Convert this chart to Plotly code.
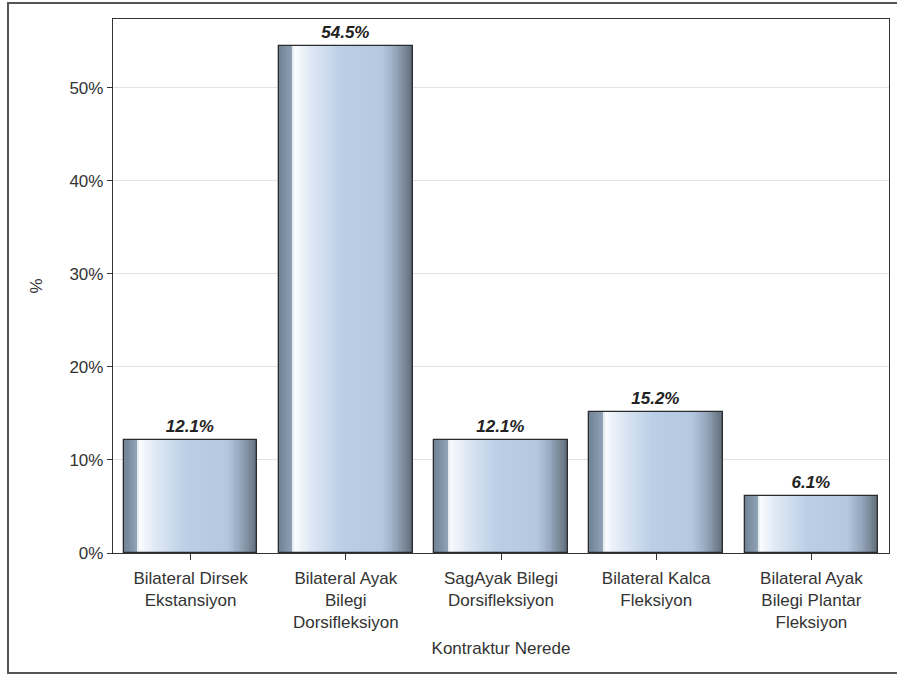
import plotly.graph_objects as go

# Contracture location shares (%)
categories = [
    "Bilateral Dirsek<br>Ekstansiyon",
    "Bilateral Ayak<br>Bilegi<br>Dorsifleksiyon",
    "SagAyak Bilegi<br>Dorsifleksiyon",
    "Bilateral Kalca<br>Fleksiyon",
    "Bilateral Ayak<br>Bilegi Plantar<br>Fleksiyon",
]
percents = [12.1, 54.5, 12.1, 15.2, 6.1]
y_ticks = [0, 10, 20, 30, 40, 50]

BAR_W = 0.86
N_SLICES = 70

# horizontal shading across each bar: (position across bar, rgb)
stops = [
    (0.00, (112, 130, 150)),
    (0.07, (134, 152, 172)),
    (0.095, (144, 162, 182)),
    (0.11, (252, 253, 255)),
    (0.24, (222, 232, 244)),
    (0.47, (186, 207, 230)),
    (0.77, (180, 200, 224)),
    (0.87, (150, 168, 190)),
    (0.94, (122, 136, 152)),
    (1.00, (94, 106, 120)),
]


def shade(t):
    for (t0, c0), (t1, c1) in zip(stops, stops[1:]):
        if t0 <= t <= t1:
            k = 0 if t1 == t0 else (t - t0) / (t1 - t0)
            r, g, b = (round(a + (bb - a) * k) for a, bb in zip(c0, c1))
            return f"rgb({r},{g},{b})"
    r, g, b = stops[-1][1]
    return f"rgb({r},{g},{b})"


fig = go.Figure()
step = BAR_W / N_SLICES
for i in range(N_SLICES):
    w = step * 1.6 if i < N_SLICES - 1 else step
    w = min(w, BAR_W - i * step)
    fig.add_trace(go.Bar(
        x=categories, y=percents,
        width=[w] * len(categories),
        offset=[-BAR_W / 2 + i * step] * len(categories),
        marker=dict(color=shade((i + 0.5) / N_SLICES), line=dict(width=0)),
        hoverinfo="skip", showlegend=False,
    ))

label_font = dict(family="Liberation Sans, Arial, sans-serif", size=17, color="#222")

# outline + value labels
fig.add_trace(go.Bar(
    x=categories, y=percents, width=BAR_W,
    marker=dict(color="rgba(0,0,0,0)", line=dict(color="#2b2b2b", width=1.3)),
    text=[f"<b><i>{v:.1f}%</i></b>" for v in percents],
    textposition="outside", cliponaxis=False,
    textfont=label_font,
    showlegend=False,
))

font = dict(family="Liberation Sans, Arial, sans-serif", size=17, color="#333")

fig.update_layout(
    width=897, height=675,
    margin=dict(l=113, r=8, t=19, b=122),
    barmode="overlay", bargap=0,
    plot_bgcolor="white", paper_bgcolor="white",
    font=font,
    showlegend=False,
    xaxis=dict(
        showline=True, linecolor="#333", linewidth=1.3, mirror=True,
        ticks="outside", ticklen=6, tickcolor="#333",
        tickfont=font, ticklabelstandoff=3,
        title=dict(text="Kontraktur Nerede", font=font, standoff=11),
    ),
    yaxis=dict(
        range=[0, 57.4], tickvals=y_ticks, ticktext=[f"{v}%" for v in y_ticks],
        showline=True, linecolor="#333", linewidth=1.3, mirror=True,
        ticks="outside", ticklen=5, tickcolor="#333",
        showgrid=True, gridcolor="#e3e3e3", gridwidth=1,
        zeroline=False, tickfont=font,
        title=dict(text="%", font=font, standoff=22),
    ),
    shapes=[dict(
        type="rect", xref="paper", yref="paper",
        x0=-0.1353, x1=1.03, y0=-0.2247, y1=1.03,
        line=dict(color="#555", width=2), fillcolor="rgba(0,0,0,0)",
        layer="below",
    )],
)

fig.write_html("out.html")
